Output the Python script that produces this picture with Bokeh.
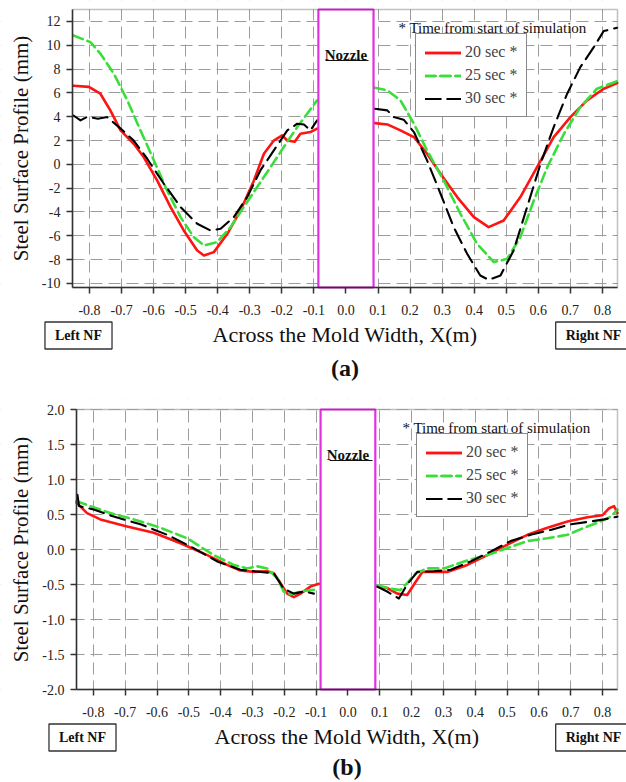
from bokeh.plotting import figure
from bokeh.layouts import column
from bokeh.models import Label, FixedTicker, NumeralTickFormatter, Range1d, BoxAnnotation
from bokeh.core.properties import value
from bokeh.embed import file_html
from bokeh.resources import INLINE

SERIF = "Liberation Serif"
SERIES = ["20 sec *", "25 sec *", "30 sec *"]
COLORS = ["#ff1414", "#3ade3a", "#000000"]
DASHES = ["solid", "10 5", "15 7"]
WIDTHS = [2.6, 2.6, 2.1]

X_TITLE = "Across the Mold Width, X(m)"
Y_TITLE = "Steel Surface Profile (mm)"
NOTE = "* Time from start of simulation"

X_TICKS = [-0.8, -0.7, -0.6, -0.5, -0.4, -0.3, -0.2, -0.1, 0.0,
           0.1, 0.2, 0.3, 0.4, 0.5, 0.6, 0.7, 0.8]
A_Y_TICKS = [-10, -8, -6, -4, -2, 0, 2, 4, 6, 8, 10, 12]
B_Y_TICKS = [-2.0, -1.5, -1.0, -0.5, 0.0, 0.5, 1.0, 1.5, 2.0]
NOZZLE_LEFT, NOZZLE_RIGHT = -0.086, 0.086

# ---------------- (a) ----------------
a20_left_x = [-0.850, -0.802, -0.766, -0.735, -0.703, -0.662, -0.631, -0.589, -0.547, -0.506, -0.464,
              -0.443, -0.412, -0.370, -0.329, -0.287, -0.256, -0.225, -0.199, -0.183, -0.160, -0.142,
              -0.111, -0.090]
a20_left_y = [6.6, 6.5, 5.93, 4.53, 2.85, 1.73, 0.61, -1.35, -3.59, -5.55, -7.23,
              -7.65, -7.37, -5.83, -3.87, -1.35, 0.89, 2.0, 2.43, 2.0, 1.9, 2.57,
              2.71, 3.0]
a20_right_x = [0.090, 0.129, 0.170, 0.212, 0.253, 0.295, 0.347, 0.399, 0.445, 0.492, 0.544,
               0.596, 0.648, 0.700, 0.752, 0.804, 0.846]
a20_right_y = [3.46, 3.35, 2.85, 2.29, 0.89, -0.79, -2.75, -4.43, -5.27, -4.71, -2.75,
               -0.23, 2.29, 3.97, 5.37, 6.35, 6.82]

a25_left_x = [-0.850, -0.797, -0.766, -0.724, -0.682, -0.641, -0.599, -0.558, -0.516, -0.475,
              -0.443, -0.402, -0.360, -0.319, -0.277, -0.235, -0.194, -0.152, -0.121, -0.090]
a25_left_y = [10.82, 10.26, 9.29, 7.61, 5.37, 2.85, 0.33, -2.19, -4.43, -6.11,
              -6.81, -6.53, -5.27, -3.59, -1.91, -0.23, 1.45, 3.13, 4.25, 5.37]
a25_right_x = [0.090, 0.129, 0.170, 0.212, 0.253, 0.305, 0.357, 0.409, 0.461, 0.503, 0.544,
               0.586, 0.628, 0.680, 0.731, 0.783, 0.846]
a25_right_y = [6.43, 6.21, 5.37, 3.41, 1.17, -1.35, -4.15, -6.67, -8.21, -7.93, -6.11,
               -3.03, -0.23, 2.57, 4.80, 6.35, 6.99]

a30_left_x = [-0.850, -0.828, -0.807, -0.774, -0.745, -0.703, -0.662, -0.620, -0.568, -0.516, -0.464,
              -0.423, -0.391, -0.350, -0.308, -0.267, -0.225, -0.183, -0.152, -0.131, -0.111, -0.090]
a30_left_y = [4.1, 3.69, 4.0, 3.83, 3.97, 3.0, 2.0, 0.47, -1.63, -3.59, -4.99,
              -5.55, -5.41, -4.43, -2.75, -0.51, 1.17, 2.85, 3.41, 3.35, 2.85, 3.69]
a30_right_x = [0.090, 0.129, 0.149, 0.180, 0.212, 0.253, 0.295, 0.336, 0.378, 0.419, 0.445,
               0.482, 0.523, 0.565, 0.607, 0.648, 0.690, 0.731, 0.773, 0.804, 0.846]
a30_right_y = [4.67, 4.53, 3.97, 3.75, 2.71, 0.33, -2.47, -5.27, -7.51, -9.33, -9.7,
               -9.33, -7.23, -3.59, 0.05, 3.13, 5.93, 8.16, 9.84, 11.19, 11.47]

# ---------------- (b) ----------------
b20_left_x = [-0.853, -0.820, -0.778, -0.694, -0.610, -0.526, -0.442, -0.380, -0.338, -0.296,
              -0.254, -0.233, -0.212, -0.191, -0.170, -0.149, -0.118, -0.091]
b20_left_y = [0.67, 0.52, 0.43, 0.33, 0.24, 0.09, -0.08, -0.22, -0.30, -0.32,
              -0.31, -0.34, -0.48, -0.63, -0.68, -0.63, -0.53, -0.49]
b20_right_x = [0.092, 0.123, 0.155, 0.186, 0.213, 0.234, 0.270, 0.312, 0.375, 0.438, 0.501,
               0.564, 0.627, 0.690, 0.753, 0.800, 0.821, 0.836, 0.847]
b20_right_y = [-0.53, -0.55, -0.63, -0.65, -0.46, -0.32, -0.32, -0.32, -0.22, -0.08, 0.07,
               0.21, 0.31, 0.40, 0.46, 0.49, 0.59, 0.62, 0.52]

b25_left_x = [-0.853, -0.810, -0.747, -0.673, -0.589, -0.505, -0.422, -0.359, -0.317, -0.285,
              -0.254, -0.222, -0.202, -0.180, -0.149, -0.097]
b25_left_y = [0.69, 0.62, 0.52, 0.43, 0.31, 0.16, -0.08, -0.22, -0.27, -0.24,
              -0.27, -0.41, -0.60, -0.64, -0.60, -0.57]
b25_right_x = [0.092, 0.134, 0.165, 0.186, 0.213, 0.249, 0.302, 0.365, 0.438, 0.501, 0.564,
               0.627, 0.690, 0.742, 0.794, 0.826, 0.847]
b25_right_y = [-0.51, -0.56, -0.58, -0.48, -0.34, -0.27, -0.27, -0.17, -0.08, 0.02, 0.12,
               0.16, 0.21, 0.31, 0.40, 0.47, 0.57]

b30_left_x = [-0.850, -0.845, -0.799, -0.736, -0.652, -0.568, -0.485, -0.411, -0.338, -0.275,
              -0.233, -0.202, -0.170, -0.139, -0.107]
b30_left_y = [0.78, 0.62, 0.57, 0.47, 0.36, 0.21, 0.02, -0.17, -0.29, -0.32,
              -0.34, -0.56, -0.63, -0.60, -0.63]
b30_right_x = [0.092, 0.123, 0.160, 0.186, 0.218, 0.270, 0.323, 0.386, 0.448, 0.511, 0.574,
               0.637, 0.700, 0.763, 0.805, 0.847]
b30_right_y = [-0.53, -0.60, -0.70, -0.50, -0.32, -0.31, -0.29, -0.17, -0.03, 0.12, 0.21,
               0.28, 0.36, 0.40, 0.43, 0.47]

X_RANGE = (-0.853, 0.847)
FIG_W = 626
CANVAS_LEFT = 0  # picture x of the canvas left edge


def make_panel(series, yr, yticks, yfmt, page_top, height, frame_px, legend_px, label_px, tag):
    """frame_px: (left, right, top, bottom) of the data box, in picture pixels."""
    x0, x1 = X_RANGE
    y0, y1 = yr
    fl, fr, ft, fb = frame_px

    def X(px):
        return x0 + (px - fl) / (fr - fl) * (x1 - x0)

    def Y(py):
        return y1 - (py - ft) / (fb - ft) * (y1 - y0)

    xs, xe = X(CANVAS_LEFT), X(CANVAS_LEFT + FIG_W)
    ye, ys = Y(page_top), Y(page_top + height)

    p = figure(width=FIG_W, height=height, x_range=Range1d(xs, xe), y_range=Range1d(ys, ye),
               output_backend="svg", toolbar_location=None, min_border=0)
    p.background_fill_color = "white"
    p.border_fill_color = "white"
    p.outline_line_color = None

    for g in (p.xgrid, p.ygrid):
        g.grid_line_color = "#9c9c9c"
        g.grid_line_dash = "12 6"
        g.grid_line_width = 1
    p.xgrid.ticker = FixedTicker(ticks=X_TICKS)
    p.ygrid.ticker = FixedTicker(ticks=yticks)

    # white margins hide the grid outside the data box
    p.quad(left=[xs, x0, x0, x1], right=[x0, xe, xe, xe], bottom=[ys, ys, y1, ys],
           top=[ye, y0, ye, ye], fill_color="white", line_color=None)

    p.xaxis.fixed_location = y0
    p.yaxis.fixed_location = x0
    p.xaxis.bounds = (x0, x1)
    p.yaxis.bounds = (y0, y1)
    p.xaxis.ticker = FixedTicker(ticks=X_TICKS)
    p.xaxis.formatter = NumeralTickFormatter(format="0.0")
    p.yaxis.ticker = FixedTicker(ticks=yticks)
    p.yaxis.formatter = NumeralTickFormatter(format=yfmt)
    for ax in (p.xaxis[0], p.yaxis[0]):
        ax.axis_line_color = "#333333"
        ax.axis_line_width = 1.5
        ax.major_tick_line_color = "#333333"
        ax.major_tick_line_width = 1.5
        ax.major_tick_out = 6
        ax.major_tick_in = 0
        ax.minor_tick_line_color = None
        ax.major_label_text_font = SERIF
        ax.major_label_text_font_size = "14px"
        ax.major_label_text_color = "#222222"
        ax.axis_label_text_font = SERIF
        ax.axis_label_text_font_style = "normal"
        ax.axis_label_text_color = "#111111"
    p.xaxis.axis_label = X_TITLE
    p.xaxis.axis_label_text_font_size = "22px"
    p.xaxis.major_label_standoff = 11
    p.xaxis.axis_label_standoff = 4
    p.yaxis.axis_label = Y_TITLE
    p.yaxis.axis_label_text_font_size = "21px"
    p.yaxis.major_label_standoff = 6
    p.yaxis.axis_label_standoff = 6

    for (lx, ly, rx, ry), name, color, dash, w in zip(series, SERIES, COLORS, DASHES, WIDTHS):
        for xx, yy in ((lx, ly), (rx, ry)):
            p.line(xx, yy, line_color=color, line_dash=dash, line_width=w,
                   line_join="round", line_cap="round", legend_label=name)

    # nozzle region
    p.quad(left=[NOZZLE_LEFT], right=[NOZZLE_RIGHT], bottom=[y0], top=[y1],
           fill_color="white", line_color="#e030e0", line_width=2.2)
    p.text(x=[0.0], y=[Y(ft + 45)], text=["Nozzle"], text_font=value(SERIF), text_font_style="bold",
           text_font_size="15px", text_align="center", text_baseline="middle", text_color="#111111")
    p.segment(x0=[X(fl + 253)], y0=[Y(ft + 51)], x1=[X(fl + 296)], y1=[Y(ft + 51)],
              line_color="#111111", line_width=1)
    p.text(x=[X(fl + 420)], y=[Y(ft + 18)], text=[NOTE], text_font=value(SERIF),
           text_font_size="15px", text_align="center", text_baseline="middle", text_color="#111111")

    # data box outline
    p.add_layout(BoxAnnotation(left=x0, right=x1, bottom=y0, top=y1, fill_alpha=0,
                               line_color="#333333", line_width=1.5))

    lg = p.legend[0]
    lg.location = (legend_px[0] - CANVAS_LEFT, page_top + height - legend_px[1])
    lg.border_line_color = "#111111"
    lg.border_line_width = 1.5
    lg.background_fill_color = "white"
    lg.background_fill_alpha = 1
    lg.label_text_font = SERIF
    lg.label_text_font_size = "16px"
    lg.glyph_width = 36
    lg.glyph_height = 17
    lg.label_height = 17
    lg.spacing = 5
    lg.padding = 9
    lg.margin = 0
    lg.label_standoff = 4

    # boxed side notes and the panel tag under the axis
    (lcx, rcx, by, tag_y) = label_px
    for txt, cx, w in (("Left NF", lcx, 25), ("Right NF", rcx, 29)):
        p.add_layout(Label(x=X(cx), y=Y(by), text=txt, text_font=SERIF,
                           text_font_style="bold", text_font_size="14px", text_align="center",
                           text_baseline="middle", text_color="#111111",
                           border_line_color="#333333", border_line_width=1.3,
                           background_fill_color="white", padding=dict(x=10, y=6)))
        p.segment(x0=[X(cx - w)], y0=[Y(by + 7)], x1=[X(cx + w)], y1=[Y(by + 7)],
                  line_color="#111111", line_width=1)
    p.add_layout(Label(x=X((fl + fr) / 2), y=Y(tag_y), text=tag, text_font=SERIF,
                       text_font_style="bold", text_font_size="24px", text_align="center",
                       text_baseline="middle", text_color="#111111"))
    return p


pa = make_panel([(a20_left_x, a20_left_y, a20_right_x, a20_right_y),
                 (a25_left_x, a25_left_y, a25_right_x, a25_right_y),
                 (a30_left_x, a30_left_y, a30_right_x, a30_right_y)],
                (-10.34, 13.0), A_Y_TICKS, "0", 0, 398, (72, 617, 9, 287),
                (415, 117), (78, 593, 335, 367), "(a)")
pb = make_panel([(b20_left_x, b20_left_y, b20_right_x, b20_right_y),
                 (b25_left_x, b25_left_y, b25_right_x, b25_right_y),
                 (b30_left_x, b30_left_y, b30_right_x, b30_right_y)],
                (-2.0, 2.0), B_Y_TICKS, "0.0", 398, 384, (76, 617, 409, 689),
                (416, 517), (82, 593, 737, 766), "(b)")

layout = column(pa, pb)
open("out.html", "w").write(file_html(layout, INLINE))
